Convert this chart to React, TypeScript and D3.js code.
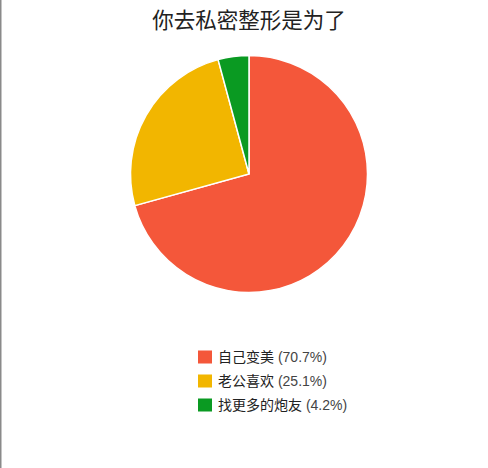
import React from "react";
import * as d3 from "d3";

const categories = ["自己变美", "老公喜欢", "找更多的炮友"];
const values = [70.7, 25.1, 4.2];
const colors = ["#f4573a", "#f2b600", "#0a9a22"];
const title = "你去私密整形是为了";

export default function App() {
  const W = 488, H = 468;
  const cx = 249, cy = 174, r = 118.5;
  const pie = d3.pie<number>().sort(null).value((d) => d)(values);
  const arc = d3.arc<d3.PieArcDatum<number>>().innerRadius(0).outerRadius(r);
  const font = "'Liberation Sans', 'Noto Sans CJK SC', sans-serif";
  const legendY = d3.scaleBand<number>().domain(d3.range(categories.length)).range([345, 417]);
  return (
    <svg width={W} height={H} style={{ position: "absolute", left: 0, top: 0 }} fontFamily={font}>
      <rect x={0} y={0} width={W} height={H} fill="#fff" />
      <line x1={0.75} y1={0} x2={0.75} y2={H} stroke="#8a8a8a" strokeWidth={1.5} />
      <text x={249} y={28} textAnchor="middle" fontSize={21.5} fill="#222">{title}</text>
      <g transform={`translate(${cx},${cy})`}>
        {pie.map((p, i) => (
          <path key={i} d={arc(p) || ""} fill={colors[i]} stroke="#fff" strokeWidth={1.5} />
        ))}
      </g>
      {categories.map((c, i) => {
        const y = (legendY(i) as number) + legendY.bandwidth() / 2;
        return (
          <g key={c}>
            <rect x={198} y={y - 6.5} width={14} height={13} fill={colors[i]} />
            <text x={218} y={y + 5} fontSize={14} fill="#222">
              {c} <tspan fill="#444">({values[i].toFixed(1)}%)</tspan>
            </text>
          </g>
        );
      })}
    </svg>
  );
}
